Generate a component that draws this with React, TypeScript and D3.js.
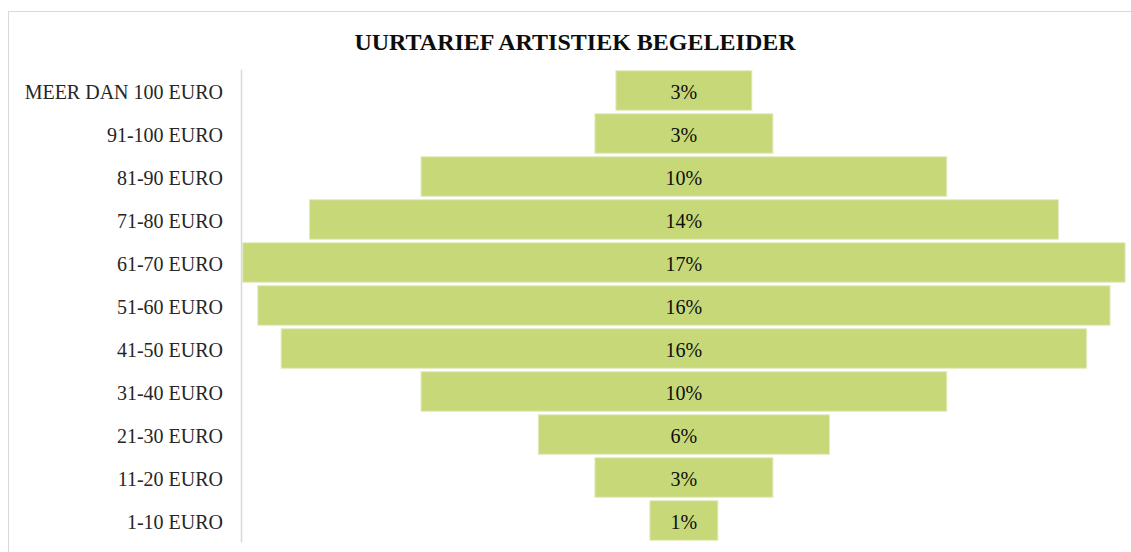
import React, { useEffect, useRef } from "react";
import * as d3 from "d3";

const categories = [
  "MEER DAN 100 EURO",
  "91-100 EURO",
  "81-90 EURO",
  "71-80 EURO",
  "61-70 EURO",
  "51-60 EURO",
  "41-50 EURO",
  "31-40 EURO",
  "21-30 EURO",
  "11-20 EURO",
  "1-10 EURO",
];
const values = [2.62, 3.43, 10.13, 14.43, 17.0, 16.42, 15.52, 10.13, 5.61, 3.43, 1.31];
const title = "UURTARIEF ARTISTIEK BEGELEIDER";

const W = 1131;
const H = 552;

export default function App() {
  const ref = useRef<SVGSVGElement | null>(null);

  useEffect(() => {
    const svg = d3.select(ref.current);
    svg.selectAll("*").remove();

    const maxV = d3.max(values) as number;
    const x = d3.scaleLinear().domain([-maxV / 2, maxV / 2]).range([242.7, 1125.1]);
    const y = d3
      .scaleBand<string>()
      .domain(categories)
      .range([69, 542])
      .paddingInner(0.08)
      .paddingOuter(0.04);

    // outer chart border
    svg
      .append("rect")
      .attr("x", 8.5)
      .attr("y", 11.5)
      .attr("width", 1300)
      .attr("height", 700)
      .attr("fill", "#fff")
      .attr("stroke", "#d9d9d9")
      .attr("stroke-width", 1);

    svg
      .append("text")
      .attr("x", 575)
      .attr("y", 49.5)
      .attr("text-anchor", "middle")
      .attr("font-family", "'Liberation Serif', serif")
      .attr("font-weight", "bold")
      .attr("font-size", 24)
      .attr("fill", "#0d0d0d")
      .text(title);

    const data = categories.map((c, i) => ({ c, v: values[i] }));

    svg
      .append("g")
      .selectAll("rect")
      .data(data)
      .join("rect")
      .attr("x", (d) => x(-d.v / 2))
      .attr("width", (d) => x(d.v / 2) - x(-d.v / 2))
      .attr("y", (d) => y(d.c) as number)
      .attr("height", y.bandwidth())
      .attr("fill", "#c7d879")
      .attr("stroke", "#e4ecc2")
      .attr("stroke-width", 1);

    svg
      .append("g")
      .selectAll("text")
      .data(data)
      .join("text")
      .attr("x", x(0))
      .attr("y", (d) => (y(d.c) as number) + y.bandwidth() / 2)
      .attr("dy", "0.4em")
      .attr("text-anchor", "middle")
      .attr("font-family", "'Liberation Serif', serif")
      .attr("font-size", 20)
      .attr("fill", "#0d0d0d")
      .text((d) => `${Math.round(d.v)}%`);

    const axis = d3.axisLeft(y).tickSize(0).tickPadding(18);
    const g = svg.append("g").attr("transform", "translate(241,0)").call(axis);
    g.select(".domain").attr("stroke", "#d9d9d9").attr("stroke-width", 1.5);
    g.selectAll("text")
      .attr("dy", "0.4em")
      .attr("font-family", "'Liberation Serif', serif")
      .attr("font-size", 20)
      .attr("fill", "#262626");
  }, []);

  return (
    <svg
      ref={ref}
      width={W}
      height={H}
      style={{ position: "absolute", left: 0, top: 0, display: "block", background: "#fff" }}
    />
  );
}
